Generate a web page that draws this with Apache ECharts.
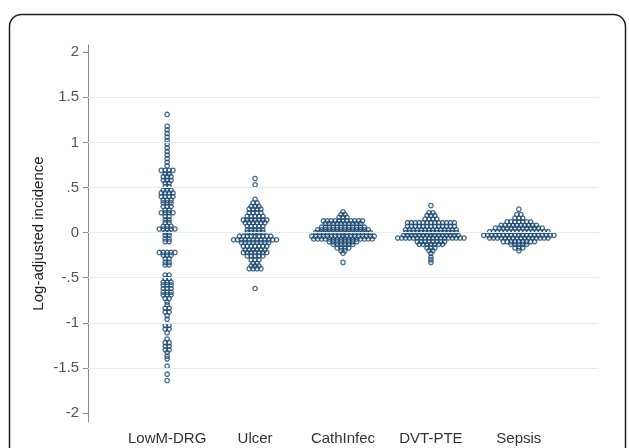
<!DOCTYPE html>
<html>
<head>
<meta charset="utf-8">
<script src="https://cdn.jsdelivr.net/npm/echarts@6/dist/echarts.min.js"></script>
<style>
  html, body { margin: 0; padding: 0; background: #fff; }
  #main { width: 629px; height: 448px; }
</style>
</head>
<body>
<div id="main"></div>
<script>
var categories = ['LowM-DRG', 'Ulcer', 'CathInfec', 'DVT-PTE', 'Sepsis'];
var yTicks = [-2, -1.5, -1, -0.5, 0, 0.5, 1, 1.5, 2];
var gridValues = [-1.5, -1, -0.5, 0, 0.5, 1, 1.5];

// each group: row values (binned y) and number of dots in that row
var lowmY = [1.31, 1.18, 1.14, 1.10, 1.06, 1.02, 0.98, 0.94, 0.90, 0.86, 0.82, 0.78, 0.74, 0.69, 0.65, 0.62, 0.58, 0.55, 0.51, 0.47, 0.44, 0.40, 0.36, 0.33, 0.29, 0.25, 0.22, 0.18, 0.14, 0.11, 0.07, 0.04, 0.00, -0.03, -0.07, -0.10,
  -0.22, -0.25, -0.29, -0.33, -0.36, -0.47, -0.51, -0.55, -0.58, -0.62, -0.66, -0.69, -0.73, -0.77, -0.80, -0.84, -0.88, -0.92, -0.96,
  -1.03, -1.07, -1.11, -1.18, -1.22, -1.26, -1.30, -1.33, -1.37, -1.40, -1.48, -1.57, -1.64];
var lowmN = [1, 1, 1, 1, 1, 1, 1, 1, 1, 1, 1, 1, 1, 4, 2, 3, 3, 2, 2, 3, 4, 4, 3, 3, 3, 2, 4, 2, 2, 2, 3, 5, 2, 2, 2, 2,
  5, 3, 2, 2, 2, 2, 2, 3, 3, 3, 3, 3, 2, 1, 1, 2, 2, 1, 1,
  2, 2, 1, 1, 2, 2, 2, 1, 1, 1, 1, 1, 1];

var ulcerY = [0.60, 0.53, 0.37, 0.33, 0.29, 0.26, 0.22, 0.18, 0.14, 0.11, 0.07, 0.03, 0.00, -0.04, -0.08, -0.11, -0.15, -0.19, -0.22, -0.26, -0.30, -0.34, -0.37, -0.40, -0.62];
var ulcerN = [1, 1, 1, 2, 3, 4, 4, 5, 7, 6, 5, 5, 5, 9, 12, 8, 7, 6, 7, 5, 3, 2, 3, 4, 1];

var cathY = [0.23, 0.20, 0.17, 0.13, 0.10, 0.06, 0.03, 0.00, -0.04, -0.07, -0.10, -0.13, -0.17, -0.20, -0.23, -0.33];
var cathN = [1, 2, 3, 11, 10, 12, 14, 15, 17, 16, 8, 6, 4, 2, 1, 1];

var dvtY = [0.30, 0.22, 0.19, 0.15, 0.11, 0.07, 0.03, 0.00, -0.03, -0.06, -0.10, -0.13, -0.17, -0.20, -0.23, -0.27, -0.30, -0.33];
var dvtN = [1, 2, 3, 4, 13, 13, 14, 14, 15, 18, 8, 7, 3, 2, 1, 1, 1, 1];

var sepsisY = [0.26, 0.20, 0.16, 0.12, 0.08, 0.05, 0.01, -0.03, -0.06, -0.10, -0.13, -0.17, -0.20];
var sepsisN = [1, 2, 3, 7, 10, 13, 16, 19, 16, 9, 5, 3, 1];

var groupsY = [lowmY, ulcerY, cathY, dvtY, sepsisY];
var groupsN = [lowmN, ulcerN, cathN, dvtN, sepsisN];

var xMin = 0.1, xMax = 5.9;
var gridLeft = 88, gridRight = 31;
var pxPerUnit = (629 - gridLeft - gridRight) / (xMax - xMin);
var dx = 3.9 / pxPerUnit; // horizontal gap between dots in a row

var points = [];
for (var g = 0; g < groupsY.length; g++) {
  for (var r = 0; r < groupsY[g].length; r++) {
    var n = groupsN[g][r];
    for (var i = 0; i < n; i++) {
      points.push([g + 1 + (i - (n - 1) / 2) * dx, groupsY[g][r]]);
    }
  }
}

function stataNum(v) {
  if (v === 0) return '0';
  return String(v).replace(/^(-?)0\./, '$1.');
}

var font = 'Liberation Sans, Arial, sans-serif';
var myChart = echarts.init(document.getElementById('main'));
var option = {
  animation: false,
  backgroundColor: '#fff',
  graphic: [{
    type: 'rect',
    shape: { x: 9.5, y: 14.5, width: 616, height: 470, r: 12 },
    style: { fill: 'none', stroke: '#1e1e1e', lineWidth: 1.5 },
    z: 0
  }],
  grid: { left: gridLeft, right: gridRight, top: 45, bottom: 26 },
  xAxis: {
    type: 'value',
    min: xMin,
    max: xMax,
    axisLine: { show: true, lineStyle: { color: '#8a8a8a', width: 1 } },
    axisTick: { show: true, length: 5, customValues: [1, 2, 3, 4, 5], lineStyle: { color: '#8a8a8a' } },
    axisLabel: {
      customValues: [1, 2, 3, 4, 5],
      margin: 9,
      fontSize: 15,
      fontFamily: font,
      color: '#333',
      formatter: function(v) { return categories[Math.round(v) - 1]; }
    },
    splitLine: { show: false }
  },
  yAxis: {
    type: 'value',
    min: -2.1,
    max: 2.08,
    name: 'Log-adjusted incidence',
    nameLocation: 'middle',
    nameRotate: 90,
    nameGap: 42,
    nameMoveOverlap: false,
    nameTextStyle: { fontSize: 15, fontFamily: font, color: '#222' },
    axisLine: { show: true, lineStyle: { color: '#8a8a8a', width: 1 } },
    axisTick: { show: true, length: 5, customValues: yTicks, lineStyle: { color: '#8a8a8a' } },
    axisLabel: {
      customValues: yTicks,
      margin: 9,
      fontSize: 15,
      fontFamily: font,
      color: '#555',
      formatter: stataNum
    },
    splitLine: { show: false }
  },
  series: [{
    type: 'line',
    data: [],
    z: 1,
    markLine: {
      silent: true,
      symbol: 'none',
      label: { show: false },
      lineStyle: { color: '#e4ecf0', type: 'solid', width: 1.2 },
      data: gridValues.map(function(v) { return { yAxis: v }; })
    }
  }, {
    type: 'scatter',
    z: 2,
    symbol: 'circle',
    symbolSize: 4.4,
    itemStyle: { color: 'rgba(0,0,0,0)', borderColor: '#1a476f', borderWidth: 1.3 },
    data: points
  }]
};
myChart.setOption(option);
</script>
</body>
</html>
